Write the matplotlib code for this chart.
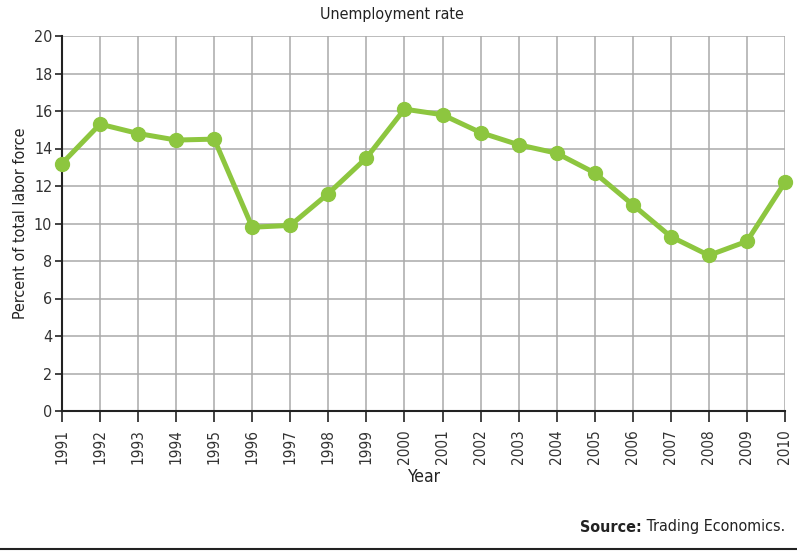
import matplotlib
matplotlib.use("Agg")
import matplotlib.pyplot as plt

# data
years = list(range(1991, 2011))
rate = [13.2, 15.3, 14.8, 14.45, 14.5, 9.8, 9.9, 11.6, 13.5, 16.1,
        15.8, 14.85, 14.2, 13.75, 12.7, 11.0, 9.3, 8.3, 9.05, 12.2]
yticks = list(range(0, 21, 2))

plt.rcParams['font.family'] = ['DejaVu Sans']
plt.rcParams['font.stretch'] = 'condensed'

fig = plt.figure(figsize=(7.97, 5.51), dpi=100)
ax = fig.add_axes([62/797, 140/551, 723/797, 375/551])

ax.plot(years, rate, color='#8dc63f', lw=3.6, marker='o', ms=10,
        solid_joinstyle='round', zorder=3, clip_on=False)

ax.set_xlim(1991, 2010)
ax.set_ylim(0, 20)
ax.set_xticks(years)
ax.set_xticklabels([str(y) for y in years], rotation=90, fontsize=11)
ax.set_yticks(yticks)
ax.set_yticklabels([str(t) for t in yticks], fontsize=11.5)
ax.grid(True, color='#aaaaaa', lw=1.1)
ax.set_axisbelow(True)
for s in ['top', 'right']:
    ax.spines[s].set_visible(False)
for s in ['left', 'bottom']:
    ax.spines[s].set_color('#222222')
    ax.spines[s].set_linewidth(1.5)
ax.tick_params(axis='both', width=1.2, color='#222222', labelcolor='#333333')
ax.tick_params(axis='x', length=8, pad=5)
ax.tick_params(axis='y', length=5, pad=2)

fig.text(392/797, 1 - 15/551, 'Unemployment rate', fontsize=11.5,
         ha='center', va='center', color='#222222')
ax.set_xlabel('Year', fontsize=12.5, color='#222222', labelpad=3)
ax.set_ylabel('Percent of total labor force', fontsize=11.5, color='#222222', labelpad=4)

# source line: bold "Source:" followed by regular text, right aligned
ys = 1 - 527/551
t2 = fig.text(785/797, ys, ' Trading Economics.', fontsize=11.5,
              ha='right', va='center', color='#222222')
fig.canvas.draw()
bb = t2.get_window_extent()
fig.text(bb.x0 / fig.bbox.width, ys, 'Source:', fontsize=11.5, fontweight='bold',
         ha='right', va='center', color='#222222')
fig.add_artist(plt.Line2D([0, 1], [1 - 549/551, 1 - 549/551], color='#222222', lw=1.5))

fig.savefig('out.png', dpi=100)
